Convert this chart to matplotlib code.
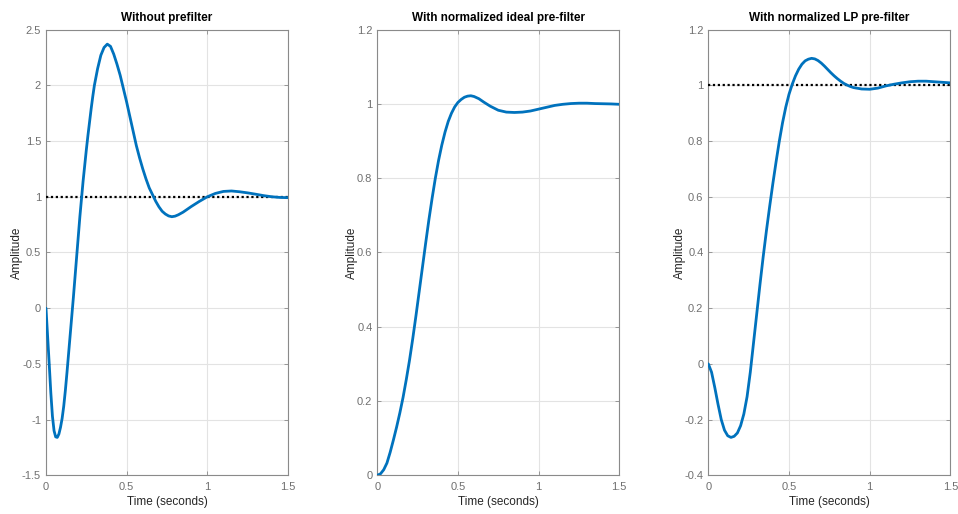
import matplotlib
matplotlib.use("Agg")
import matplotlib.pyplot as plt

plt.rcParams['font.family'] = ['Liberation Sans', 'DejaVu Sans']
plt.rcParams['axes.unicode_minus'] = False

# Step responses
t_nopf = [0.00, 0.01, 0.02, 0.03, 0.04, 0.05, 0.06, 0.07, 0.08, 0.09, 0.10,
          0.11, 0.12, 0.13, 0.14, 0.15, 0.16, 0.17, 0.18, 0.19, 0.20, 0.21,
          0.22, 0.23, 0.24, 0.25, 0.26, 0.27, 0.28, 0.29, 0.30, 0.32, 0.34,
          0.36, 0.38, 0.40, 0.42, 0.44, 0.46, 0.48, 0.50, 0.52, 0.54, 0.56,
          0.58, 0.60, 0.62, 0.64, 0.66, 0.68, 0.70, 0.72, 0.74, 0.76, 0.78,
          0.80, 0.82, 0.85, 0.90, 0.95, 1.00, 1.05, 1.10, 1.15, 1.20, 1.25,
          1.30, 1.35, 1.40, 1.45, 1.50]
y_nopf = [0.00, -0.25, -0.50, -0.76, -0.97, -1.10, -1.155, -1.16, -1.13, -1.07, -0.99,
          -0.88, -0.74, -0.58, -0.41, -0.24, -0.07, 0.10, 0.28, 0.46, 0.64, 0.82,
          0.98, 1.14, 1.28, 1.42, 1.55, 1.67, 1.79, 1.90, 2.00, 2.15, 2.27,
          2.34, 2.37, 2.35, 2.28, 2.19, 2.09, 1.97, 1.85, 1.72, 1.59, 1.46,
          1.35, 1.25, 1.16, 1.08, 1.02, 0.96, 0.91, 0.87, 0.845, 0.828, 0.821,
          0.826, 0.838, 0.862, 0.912, 0.958, 1.00, 1.03, 1.048, 1.052, 1.045, 1.035,
          1.023, 1.01, 1.00, 0.994, 0.992]

t_ideal = [0.00, 0.02, 0.04, 0.06, 0.08, 0.10, 0.12, 0.14, 0.16, 0.18, 0.20,
           0.22, 0.24, 0.26, 0.28, 0.30, 0.32, 0.34, 0.36, 0.38, 0.40, 0.42,
           0.44, 0.46, 0.48, 0.50, 0.52, 0.54, 0.56, 0.58, 0.60, 0.63, 0.66,
           0.70, 0.75, 0.80, 0.85, 0.90, 0.95, 1.00, 1.05, 1.10, 1.15, 1.20,
           1.25, 1.30, 1.35, 1.40, 1.45, 1.50]
y_ideal = [0.000, 0.004, 0.015, 0.033, 0.062, 0.095, 0.130, 0.168, 0.210, 0.258, 0.310,
           0.368, 0.430, 0.495, 0.560, 0.625, 0.688, 0.746, 0.800, 0.848, 0.889, 0.924,
           0.953, 0.975, 0.992, 1.004, 1.012, 1.018, 1.021, 1.022, 1.020, 1.014, 1.005,
           0.994, 0.983, 0.978, 0.977, 0.978, 0.981, 0.986, 0.991, 0.996, 0.999, 1.001,
           1.002, 1.002, 1.001, 1.0005, 1.000, 0.999]

t_lp = [0.00, 0.02, 0.04, 0.06, 0.08, 0.10, 0.12, 0.14, 0.16, 0.18, 0.20,
        0.22, 0.24, 0.26, 0.28, 0.30, 0.32, 0.34, 0.36, 0.38, 0.40, 0.42,
        0.44, 0.46, 0.48, 0.50, 0.52, 0.54, 0.56, 0.58, 0.60, 0.62, 0.64,
        0.66, 0.68, 0.70, 0.72, 0.74, 0.76, 0.78, 0.80, 0.82, 0.84, 0.86,
        0.88, 0.90, 0.95, 1.00, 1.05, 1.10, 1.15, 1.20, 1.25, 1.30, 1.35,
        1.40, 1.45, 1.50]
y_lp = [0.000, -0.030, -0.085, -0.145, -0.200, -0.238, -0.258, -0.264, -0.260, -0.248, -0.222,
        -0.180, -0.118, -0.030, 0.075, 0.180, 0.285, 0.385, 0.478, 0.565, 0.648, 0.726,
        0.800, 0.866, 0.922, 0.968, 1.004, 1.034, 1.058, 1.076, 1.088, 1.094, 1.097,
        1.095, 1.089, 1.080, 1.069, 1.057, 1.045, 1.034, 1.024, 1.015, 1.007, 1.001,
        0.996, 0.992, 0.987, 0.986, 0.990, 0.998, 1.004, 1.009, 1.013, 1.015, 1.015,
        1.013, 1.011, 1.009]

titles = ["Without prefilter", "With normalized ideal pre-filter", "With normalized LP pre-filter"]
ylims = [(-1.5, 2.5), (0, 1.2), (-0.4, 1.2)]
yticks = [[-1.5, -1, -0.5, 0, 0.5, 1, 1.5, 2, 2.5],
          [0, 0.2, 0.4, 0.6, 0.8, 1, 1.2],
          [-0.4, -0.2, 0, 0.2, 0.4, 0.6, 0.8, 1, 1.2]]
xticks = [0, 0.5, 1, 1.5]
show_ref = [True, False, True]

fig = plt.figure(figsize=(9.58, 5.14), dpi=100)
lefts = [0.048, 0.3938, 0.7394]
series = [(t_nopf, y_nopf), (t_ideal, y_ideal), (t_lp, y_lp)]

for i in range(3):
    ax = fig.add_axes([lefts[i], 0.0753, 0.2526, 0.867])
    t, y = series[i]
    if show_ref[i]:
        ax.plot([0, 1.5], [1, 1], color='black', linestyle=(0, (1, 1.2)), lw=1.6, zorder=3)
    ax.plot(t, y, color='#0072BD', lw=2.0, zorder=4, solid_capstyle='round',
            solid_joinstyle='round')
    ax.set_xlim(0, 1.5)
    ax.set_ylim(*ylims[i])
    ax.set_xticks(xticks)
    ax.set_xticklabels([f"{v:g}" for v in xticks])
    ax.set_yticks(yticks[i])
    ax.set_yticklabels([f"{v:g}" for v in yticks[i]])
    ax.grid(True, color='#e3e3e3', linewidth=0.8)
    ax.set_axisbelow(True)
    for s in ax.spines.values():
        s.set_color('#8a8a8a')
        s.set_linewidth(0.8)
    ax.tick_params(direction='in', length=3, width=0.6, colors='#8a8a8a',
                   labelcolor='#707070', labelsize=8, top=True, right=True)
    ax.tick_params(axis='x', pad=5)
    ax.set_title(titles[i], fontsize=8.5, fontweight='bold', pad=6)
    ax.set_xlabel('Time (seconds)', fontsize=8.5, color='#262626', labelpad=3)
    ax.set_ylabel('Amplitude', fontsize=8.5, color='#262626', labelpad=-1)

fig.savefig('out.png', dpi=100)
